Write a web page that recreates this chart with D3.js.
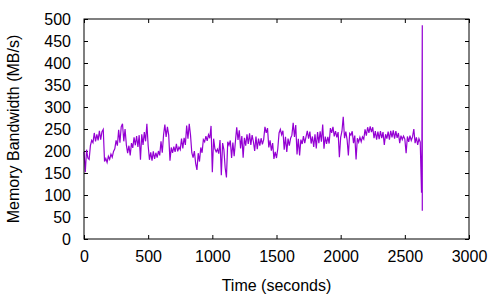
<!DOCTYPE html>
<html>
<head>
<meta charset="utf-8">
<script src="https://cdn.jsdelivr.net/npm/d3@7"></script>
<style>
  body { margin: 0; background: #fff; }
  text { font-family: "Liberation Sans", Arial, sans-serif; fill: #000; }
</style>
</head>
<body>
<svg id="chart" width="500" height="300"></svg>
<script>
// Sample spacing of the bandwidth trace, in seconds
const sampleStep = 10;

// Memory bandwidth (MB/s), one value every 10 s starting at t = 0
const bandwidth = [
  198, 152, 203, 184, 181, 212, 224, 219, 241, 222,
  238, 224, 246, 226, 244, 249, 176, 183, 174, 188,
  181, 193, 186, 199, 205, 224, 212, 248, 219, 255,
  262, 222, 250, 214, 195, 212, 190, 218, 207, 231,
  213, 234, 209, 236, 180, 238, 214, 243, 222, 262,
  212, 180, 197, 178, 199, 182, 196, 185, 200, 190,
  222, 196, 237, 260, 232, 255, 236, 178, 208, 196,
  210, 198, 216, 199, 209, 203, 228, 206, 230, 214,
  258, 228, 262, 236, 196, 185, 200, 172, 157, 195,
  176, 208, 196, 226, 221, 234, 223, 237, 229, 257,
  152, 228, 205, 198, 204, 194, 225, 145, 218, 203,
  162, 140, 221, 213, 224, 184, 219, 188, 222, 254,
  225, 247, 206, 234, 185, 230, 212, 238, 216, 240,
  214, 236, 221, 200, 233, 204, 228, 212, 229, 215,
  226, 255, 241, 252, 208, 224, 201, 218, 182, 198,
  184, 205, 241, 249, 237, 246, 203, 232, 198, 228,
  212, 229, 236, 264, 232, 259, 192, 228, 190, 226,
  216, 234, 218, 232, 246, 228, 244, 217, 233, 209,
  238, 206, 243, 218, 245, 221, 260, 205, 233, 216,
  232, 217, 252, 241, 255, 233, 245, 231, 243, 186,
  231, 245, 278, 229, 244, 226, 190, 240, 236, 245,
  218, 235, 181, 229, 220, 231, 221, 232, 227, 249,
  235, 254, 241, 256, 243, 254, 229, 245, 226, 244,
  227, 245, 229, 243, 214, 238, 228, 244, 226, 246,
  231, 247, 228, 245, 230, 241, 218, 235, 226, 234,
  227, 195, 233, 221, 235, 224, 232, 250, 218, 231,
  214, 228, 220, 105
];

// Final burst at the end of the run
const spikeTimes = [2633, 2636, 2636];
const spikeValues = [215, 486, 64];

const xTicks = [0, 500, 1000, 1500, 2000, 2500, 3000];
const yTicks = [0, 50, 100, 150, 200, 250, 300, 350, 400, 450, 500];

const margin = { left: 84, right: 31, top: 19, bottom: 61 };
const width = 500, height = 300;

const svg = d3.select("#chart");

const x = d3.scaleLinear().domain([0, 3000]).range([margin.left, width - margin.right]);
const y = d3.scaleLinear().domain([0, 500]).range([height - margin.bottom, margin.top]);

// Build the series points
const points = bandwidth.map((v, i) => ({ t: i * sampleStep, v: v }));
spikeTimes.forEach((t, i) => points.push({ t: t, v: spikeValues[i] }));

// Axes with inward ticks, mirrored on top and right like gnuplot
function styleAxis(g, showLabels) {
  g.select(".domain").remove();
  g.selectAll(".tick line").attr("stroke", "#000");
  g.selectAll(".tick text")
    .style("font-size", "16px")
    .attr("fill", "#000");
  if (!showLabels) g.selectAll(".tick text").remove();
}

const fmt = d3.format("d");

svg.append("g")
  .attr("transform", `translate(0,${y(0)})`)
  .call(d3.axisBottom(x).tickValues(xTicks).tickFormat(fmt).tickSizeInner(-4).tickSizeOuter(0).tickPadding(12))
  .call(g => styleAxis(g, true));

svg.append("g")
  .attr("transform", `translate(0,${y(500)})`)
  .call(d3.axisTop(x).tickValues(xTicks).tickSizeInner(-4).tickSizeOuter(0))
  .call(g => styleAxis(g, false));

svg.append("g")
  .attr("transform", `translate(${x(0)},0)`)
  .call(d3.axisLeft(y).tickValues(yTicks).tickFormat(fmt).tickSizeInner(-4).tickSizeOuter(0).tickPadding(13))
  .call(g => styleAxis(g, true));

svg.append("g")
  .attr("transform", `translate(${x(3000)},0)`)
  .call(d3.axisRight(y).tickValues(yTicks).tickSizeInner(-4).tickSizeOuter(0))
  .call(g => styleAxis(g, false));

// Data line
const line = d3.line().x(d => x(d.t)).y(d => y(d.v));
svg.append("path")
  .datum(points)
  .attr("d", line)
  .attr("fill", "none")
  .attr("stroke", "#9400d3")
  .attr("stroke-width", 1.2);

// Plot border
svg.append("rect")
  .attr("x", x(0))
  .attr("y", y(500))
  .attr("width", x(3000) - x(0))
  .attr("height", y(0) - y(500))
  .attr("fill", "none")
  .attr("stroke", "#000")
  .attr("stroke-width", 1);

// Axis titles
svg.append("text")
  .attr("x", (x(0) + x(3000)) / 2)
  .attr("y", 291)
  .attr("text-anchor", "middle")
  .style("font-size", "16px")
  .text("Time (seconds)");

svg.append("text")
  .attr("transform", `translate(19,${(y(0) + y(500)) / 2}) rotate(-90)`)
  .attr("text-anchor", "middle")
  .style("font-size", "16px")
  .text("Memory Bandwidth (MB/s)");
</script>
</body>
</html>
